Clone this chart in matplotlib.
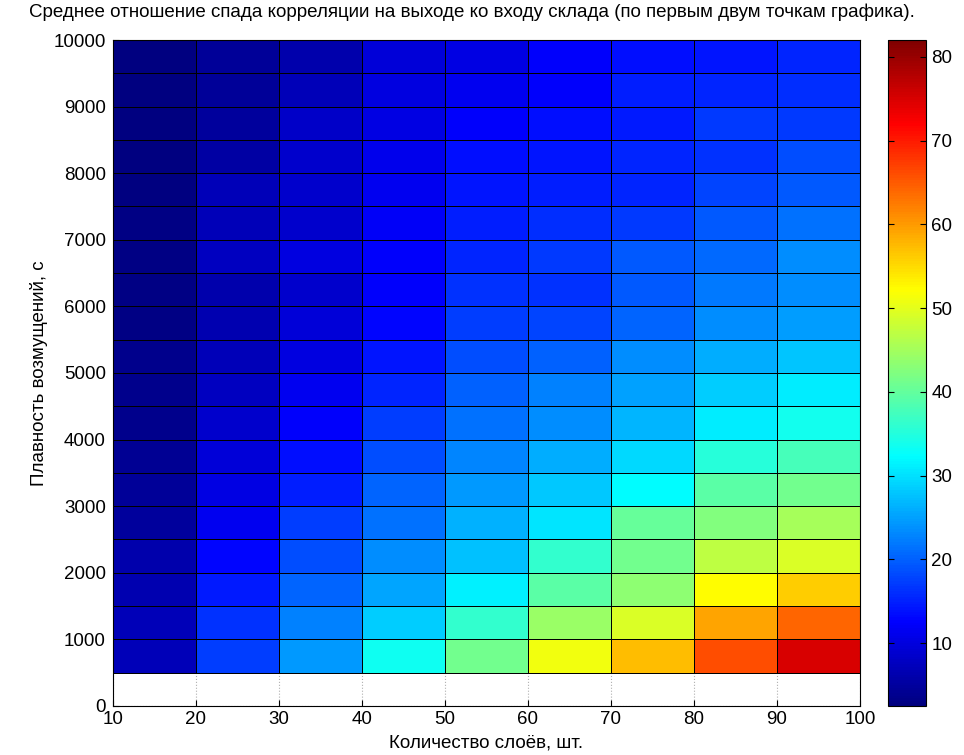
import matplotlib
matplotlib.use('Agg')
import matplotlib.pyplot as plt
from matplotlib.colors import LinearSegmentedColormap
import numpy as np

plt.rcParams['font.family'] = ['Liberation Sans', 'DejaVu Sans']

# сетка: количество слоёв и плавность возмущений (границы ячеек)
sloi = [10, 20, 30, 40, 50, 60, 70, 80, 90, 100]
plavnost = list(range(500, 10001, 500))

# среднее отношение спада корреляции, строки снизу вверх (500 ... 9500)
otnoshenie = [
    [6.9, 17.4, 24.4, 33.3, 41.3, 51.2, 57.2, 66.1, 75.0],
    [6.9, 16.4, 22.4, 28.4, 36.3, 44.2, 49.2, 59.2, 64.1],
    [6.5, 14.4, 20.4, 25.4, 31.3, 39.3, 43.2, 52.2, 56.2],
    [6.1, 12.8, 18.4, 23.4, 27.4, 36.3, 41.3, 47.2, 49.2],
    [4.9, 11.5, 17.4, 21.4, 26.4, 30.3, 40.3, 42.3, 45.2],
    [4.5, 10.5, 14.8, 20.4, 24.4, 28.0, 32.3, 39.3, 41.3],
    [4.1, 9.5, 13.4, 18.4, 22.8, 26.0, 29.3, 35.3, 37.8],
    [3.5, 8.5, 12.4, 17.4, 21.4, 23.4, 26.7, 31.0, 33.8],
    [3.5, 7.5, 11.5, 15.4, 20.0, 22.4, 25.0, 28.4, 31.0],
    [3.5, 6.9, 10.1, 14.0, 18.4, 19.9, 23.4, 25.9, 27.9],
    [3.1, 6.5, 9.5, 12.8, 17.4, 18.0, 20.4, 23.4, 24.8],
    [2.9, 6.1, 8.5, 12.4, 16.4, 16.4, 19.4, 22.0, 23.4],
    [2.9, 7.5, 10.1, 12.4, 15.4, 16.8, 19.4, 20.8, 23.4],
    [2.9, 6.9, 8.5, 11.9, 14.8, 16.0, 16.8, 19.4, 21.4],
    [2.8, 6.9, 8.5, 11.5, 14.0, 14.8, 15.4, 18.0, 19.4],
    [2.8, 5.5, 8.5, 10.9, 13.4, 14.0, 15.4, 16.4, 18.4],
    [2.7, 4.8, 8.1, 10.5, 12.4, 13.4, 14.4, 16.8, 16.8],
    [2.6, 4.5, 6.9, 10.1, 11.5, 12.4, 14.8, 15.4, 16.0],
    [2.5, 4.5, 6.1, 9.5, 10.5, 12.4, 13.4, 14.0, 15.4],
]
cmin, cmax = 2.5, 82.0

# jet в варианте MATLAB
jet_m = LinearSegmentedColormap.from_list('jet_m', [
    (0.0, (0, 0, 0.5)), (0.125, (0, 0, 1)), (0.375, (0, 1, 1)),
    (0.625, (1, 1, 0)), (0.875, (1, 0, 0)), (1.0, (0.5, 0, 0))])

fs = 13.5
fig = plt.figure(figsize=(9.64, 7.55), dpi=100)
ax = fig.add_axes([0.117, 0.065, 0.775, 0.882])
cax = fig.add_axes([0.921, 0.065, 0.040, 0.882])

ax.grid(True, color='#b0b0b0', linestyle=':', linewidth=0.8)
ax.set_axisbelow(True)
mesh = ax.pcolormesh(sloi, plavnost, np.array(otnoshenie),
                     cmap=jet_m, vmin=cmin, vmax=cmax,
                     edgecolors='black', linewidth=0.6, zorder=2)

ax.set_xlim(10, 100)
ax.set_ylim(0, 10000)
ax.set_xticks(range(10, 101, 10))
ax.set_yticks(range(0, 10001, 1000))
ax.tick_params(direction='in', labelsize=fs, length=4)
ax.tick_params(axis='x', pad=4)
ax.tick_params(axis='y', pad=5)
for s in ax.spines.values():
    s.set_linewidth(0.8)

fig.text(0.49, 1 - 12 / 755, 'Среднее отношение спада корреляции на выходе ко входу склада '
         '(по первым двум точкам графика).', fontsize=fs, ha='center', va='center')
ax.set_xlabel('Количество слоёв, шт.', fontsize=fs, labelpad=4)
ax.set_ylabel('Плавность возмущений, с', fontsize=fs, labelpad=4)

cb = fig.colorbar(mesh, cax=cax, ticks=range(10, 81, 10))
cb.ax.tick_params(direction='in', labelsize=fs, length=4, right=True, left=True)
cb.outline.set_linewidth(0.8)

plt.savefig('out.png', dpi=100)
plt.close()
